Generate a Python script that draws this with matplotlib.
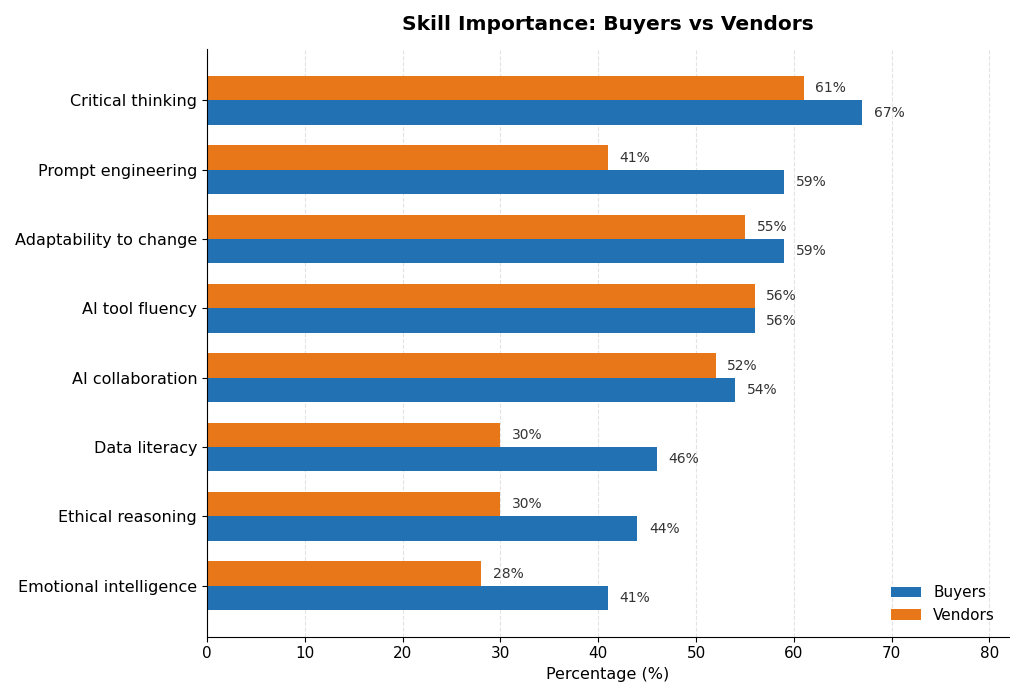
import matplotlib
matplotlib.use("Agg")
import matplotlib.pyplot as plt
import numpy as np

skills = ["Critical thinking", "Prompt engineering", "Adaptability to change", "AI tool fluency",
          "AI collaboration", "Data literacy", "Ethical reasoning", "Emotional intelligence"]
buyers = [67, 59, 59, 56, 54, 46, 44, 41]
vendors = [61, 41, 55, 56, 52, 30, 30, 28]

fig, ax = plt.subplots(figsize=(10.24, 6.97), dpi=100)
y = np.arange(len(skills))
h = 0.35
ax.barh(y + h/2, buyers, h, color="#2271b3", label="Buyers")
ax.barh(y - h/2, vendors, h, color="#e8771a", label="Vendors")
for yi, b, v in zip(y, buyers, vendors):
    ax.text(b + 1.2, yi + h/2, f"{b}%", va="center", fontsize=10, color="#333333")
    ax.text(v + 1.2, yi - h/2, f"{v}%", va="center", fontsize=10, color="#333333")
ax.set_yticks(y)
ax.set_yticklabels(skills, fontsize=11.5)
ax.invert_yaxis()
ax.set_xlim(0, 82)
ax.set_xticks(range(0, 81, 10))
ax.tick_params(axis="x", labelsize=11)
ax.set_xlabel("Percentage (%)", fontsize=11.5)
ax.set_title("Skill Importance: Buyers vs Vendors", fontsize=14.5, fontweight="bold", pad=14)
ax.grid(axis="x", linestyle="--", color="#dddddd", alpha=0.8)
ax.set_axisbelow(True)
for s in ["top", "right"]:
    ax.spines[s].set_visible(False)
ax.legend(loc="lower right", frameon=False, fontsize=11)
plt.tight_layout()
fig.savefig("out.png", dpi=100)
